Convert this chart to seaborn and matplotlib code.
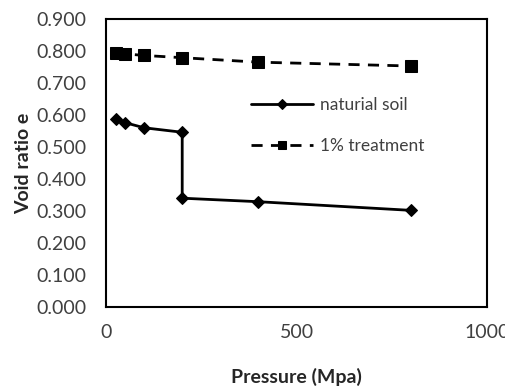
import matplotlib
matplotlib.use("Agg")
import matplotlib.pyplot as plt
import seaborn as sns
import pandas as pd

pressure_nat = [25, 50, 100, 200, 200, 400, 800]
void_nat = [0.586, 0.576, 0.560, 0.546, 0.340, 0.329, 0.302]
pressure_trt = [25, 50, 100, 200, 400, 800]
void_trt = [0.795, 0.791, 0.786, 0.779, 0.765, 0.753]
series_names = ["naturial soil", "1% treatment"]
y_ticks = [0.0, 0.1, 0.2, 0.3, 0.4, 0.5, 0.6, 0.7, 0.8, 0.9]
x_ticks = [0, 500, 1000]

sns.set_style("white")
plt.rcParams['font.family'] = ['Lato', 'DejaVu Sans']

df_nat = pd.DataFrame({"p": pressure_nat, "e": void_nat})
df_trt = pd.DataFrame({"p": pressure_trt, "e": void_trt})

fig = plt.figure(figsize=(5.06, 3.87), dpi=100)
ax = fig.add_axes([0.2095, 0.2067, 0.753, 0.7443])

sns.lineplot(data=df_nat, x="p", y="e", ax=ax, color="black", lw=2,
             marker="D", markersize=6, markeredgecolor="black",
             label=series_names[0], sort=False, estimator=None)
sns.lineplot(data=df_trt, x="p", y="e", ax=ax, color="black", lw=2,
             marker="s", markersize=8, markeredgecolor="black",
             linestyle=(0, (4, 3)), label=series_names[1],
             sort=False, estimator=None)

ax.set_xlim(0, 1000)
ax.set_ylim(0, 0.9)
ax.set_xticks(x_ticks)
ax.set_yticks(y_ticks)
ax.set_yticklabels([f"{v:.3f}" for v in y_ticks])
ax.tick_params(axis="both", labelsize=14, labelcolor="#404040", length=0)
ax.tick_params(axis="y", pad=14)
ax.tick_params(axis="x", pad=12)
ax.set_xlabel("Pressure (Mpa)", fontsize=14, fontweight="bold")
ax.set_ylabel("Void ratio e", fontsize=14, fontweight="bold")
ax.yaxis.set_label_coords(-0.194, 0.5)
ax.xaxis.set_label_coords(0.5, -0.212)
for s in ax.spines.values():
    s.set_color("black")
    s.set_linewidth(1.5)
ax.grid(False)

leg = ax.legend(loc="upper left", bbox_to_anchor=(0.339, 0.784), frameon=False,
                fontsize=12.5, handlelength=3.6, handletextpad=0.4,
                labelspacing=1.45, labelcolor="#404040", markerscale=0.8)

fig.savefig("out.png", dpi=100)
